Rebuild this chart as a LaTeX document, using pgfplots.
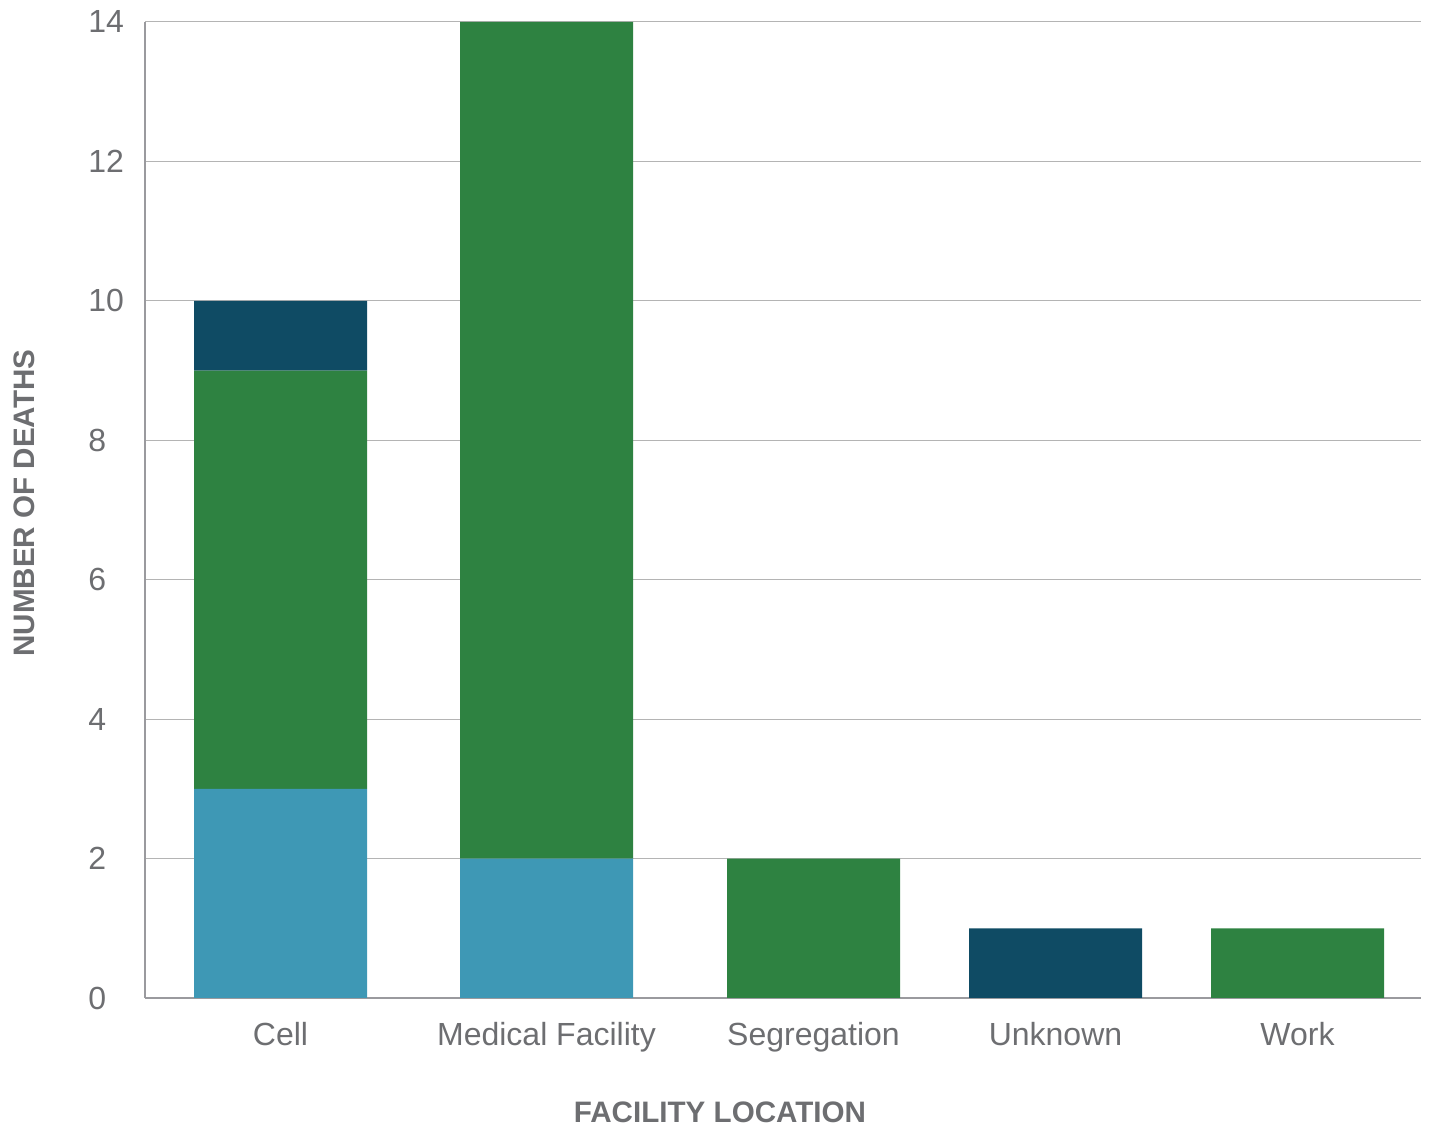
\documentclass[border=0pt]{standalone}
\usepackage{pgfplots}
\pgfplotsset{compat=1.18}
\usepackage{fontspec}
\setmainfont{Liberation Sans}
\definecolor{cblue}{HTML}{3E98B5}
\definecolor{cgreen}{HTML}{2E8241}
\definecolor{cnavy}{HTML}{0F4B64}
\definecolor{ctext}{HTML}{6D6E71}
\definecolor{cgrid}{HTML}{B4B4B4}
\definecolor{caxis}{HTML}{9A9A9E}
\begin{document}
\begin{tikzpicture}
\path[use as bounding box] (-72.5pt,-64.5pt) rectangle (642.5pt,499pt);
\begin{axis}[
  at={(0,0)}, anchor=south west,
  scale only axis,
  width=638pt, height=488pt,
  xmin=0, xmax=1276,
  ymin=0, ymax=14,
  ybar stacked,
  bar width=173,
  xtick={135.5,401.5,668.5,910.5,1152.5},
  xticklabels={Cell,Medical Facility,Segregation,Unknown,Work},
  ytick={0,2,4,6,8,10,12,14},
  major tick length=0pt,
  axis x line=bottom,
  axis y line=left,
  axis line style={-, draw=caxis, line width=1pt},
  ymajorgrids=true,
  grid style={draw=cgrid, line width=0.5pt},
  /pgf/number format/assume math mode=true,
  tick label style={font=\fontsize{16pt}{18pt}\selectfont, text=ctext},
  yticklabel style={anchor=west, inner sep=0pt, xshift=-28.5pt},
  xticklabel style={yshift=-8.5pt},
  xlabel={FACILITY LOCATION},
  ylabel={NUMBER OF DEATHS},
  label style={font=\fontsize{14.8pt}{17pt}\selectfont\bfseries, text=ctext},
  xlabel style={at={(axis description cs:0.4506,-0.1168)}, anchor=center},
  ylabel style={at={(axis description cs:-0.0948,0.507)}, anchor=center, rotate=0},
  clip=false,
]
\addplot[fill=cblue, draw=none] coordinates {(135.5,3) (401.5,2) (668.5,0) (910.5,0) (1152.5,0)};
\addplot[fill=cgreen, draw=none] coordinates {(135.5,6) (401.5,12) (668.5,2) (910.5,0) (1152.5,1)};
\addplot[fill=cnavy, draw=none] coordinates {(135.5,1) (401.5,0) (668.5,0) (910.5,1) (1152.5,0)};
\end{axis}
\end{tikzpicture}
\end{document}
